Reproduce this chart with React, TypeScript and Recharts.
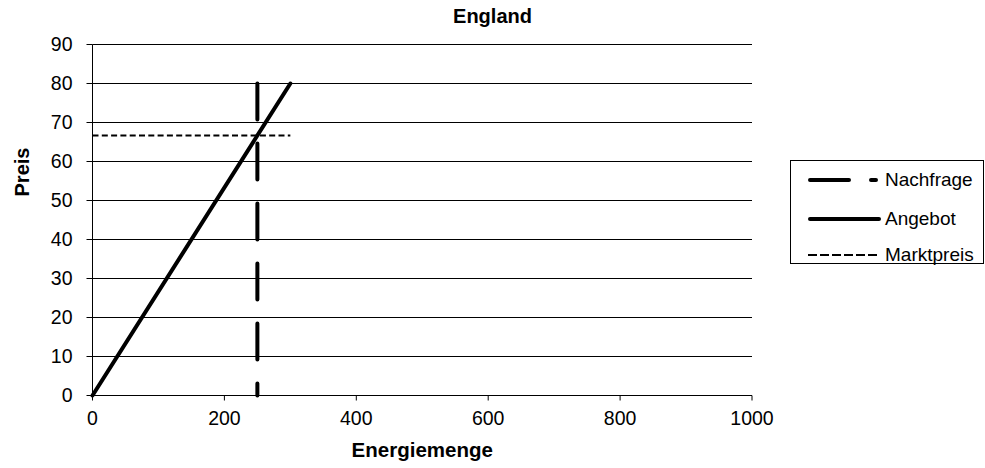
import { LineChart, Line, XAxis, YAxis, CartesianGrid } from 'recharts'

const angebotX = [0, 300]
const angebotY = [0, 80]
const nachfrageX = [250, 250]
const nachfrageY = [80, 0]
const marktpreisX = [0, 300]
const marktpreisY = [66.67, 66.67]
const xTicks = [0, 200, 400, 600, 800, 1000]
const yTicks = [0, 10, 20, 30, 40, 50, 60, 70, 80, 90]

const toPoints = (xs: number[], ys: number[]) => xs.map((x, i) => ({ x, y: ys[i] }))

const font = '"Liberation Sans", Arial, sans-serif'

const legendItems = [
  { name: 'Nachfrage', width: 4, dash: '39 22', cap: 'round' as const, x1: 19, x2: 85 },
  { name: 'Angebot', width: 4, dash: undefined, cap: 'round' as const, x1: 19, x2: 88 },
  { name: 'Marktpreis', width: 2, dash: '9 3', cap: 'butt' as const, x1: 17, x2: 87 },
]
const legendRowsY = [19, 58, 94]

export default function App() {
  return (
    <div style={{ position: 'absolute', left: 0, top: 0, width: 985, height: 468, background: '#fff', fontFamily: font }}>
      <div style={{ position: 'absolute', left: 0, width: 985, top: 5, textAlign: 'center', fontWeight: 'bold', fontSize: 20 }}>
        England
      </div>
      <LineChart width={985} height={468} margin={{ top: 44.5, right: 233, bottom: 0, left: 0 }}>
        <CartesianGrid vertical={false} stroke="#000" strokeWidth={1} />
        <XAxis
          type="number"
          dataKey="x"
          domain={[0, 1000]}
          ticks={xTicks}
          height={72.5}
          interval={0}
          stroke="#000"
          tickSize={5}
          tickMargin={11}
          tick={{ fill: '#000', fontSize: 19.5, fontFamily: font }}
          label={{
            value: 'Energiemenge',
            content: ({ viewBox }: any) => (
              <text x={viewBox.x + viewBox.width / 2} y={457} textAnchor="middle" fill="#000" fontWeight="bold" fontSize={20.5} fontFamily={font}>
                Energiemenge
              </text>
            ),
          }}
        />
        <YAxis
          type="number"
          domain={[0, 90]}
          ticks={yTicks}
          width={92.5}
          interval={0}
          stroke="#000"
          tickSize={6}
          tickMargin={14}
          tick={{ fill: '#000', fontSize: 19.5, fontFamily: font }}
          label={{
            value: 'Preis',
            content: () => (
              <text x={29} y={172} transform="rotate(-90 29 172)" textAnchor="middle" fill="#000" fontWeight="bold" fontSize={20} fontFamily={font}>
                Preis
              </text>
            ),
          }}
        />
        <Line data={toPoints(marktpreisX, marktpreisY)} dataKey="y" stroke="#000" strokeWidth={2} strokeDasharray="6 3.3" dot={false} isAnimationActive={false} />
        <Line data={toPoints(angebotX, angebotY)} dataKey="y" stroke="#000" strokeWidth={4} strokeLinecap="round" dot={false} isAnimationActive={false} />
        <Line data={toPoints(nachfrageX, nachfrageY)} dataKey="y" stroke="#000" strokeWidth={4} strokeLinecap="round" strokeDasharray="36 24" dot={false} isAnimationActive={false} />
      </LineChart>
      <div style={{ position: 'absolute', left: 790, top: 160, width: 192, height: 102, border: '1px solid #000', fontSize: 19 }}>
        {legendItems.map((it, i) => (
          <div key={it.name} style={{ position: 'absolute', left: 0, top: legendRowsY[i] - 13, height: 26, display: 'flex', alignItems: 'center' }}>
            <svg width={93} height={10} style={{ display: 'block' }}>
              <line x1={it.x1} y1={5} x2={it.x2} y2={5} stroke="#000" strokeWidth={it.width} strokeDasharray={it.dash} strokeLinecap={it.cap} />
            </svg>
            <span style={{ marginLeft: 1, lineHeight: '26px' }}>{it.name}</span>
          </div>
        ))}
      </div>
    </div>
  )
}
